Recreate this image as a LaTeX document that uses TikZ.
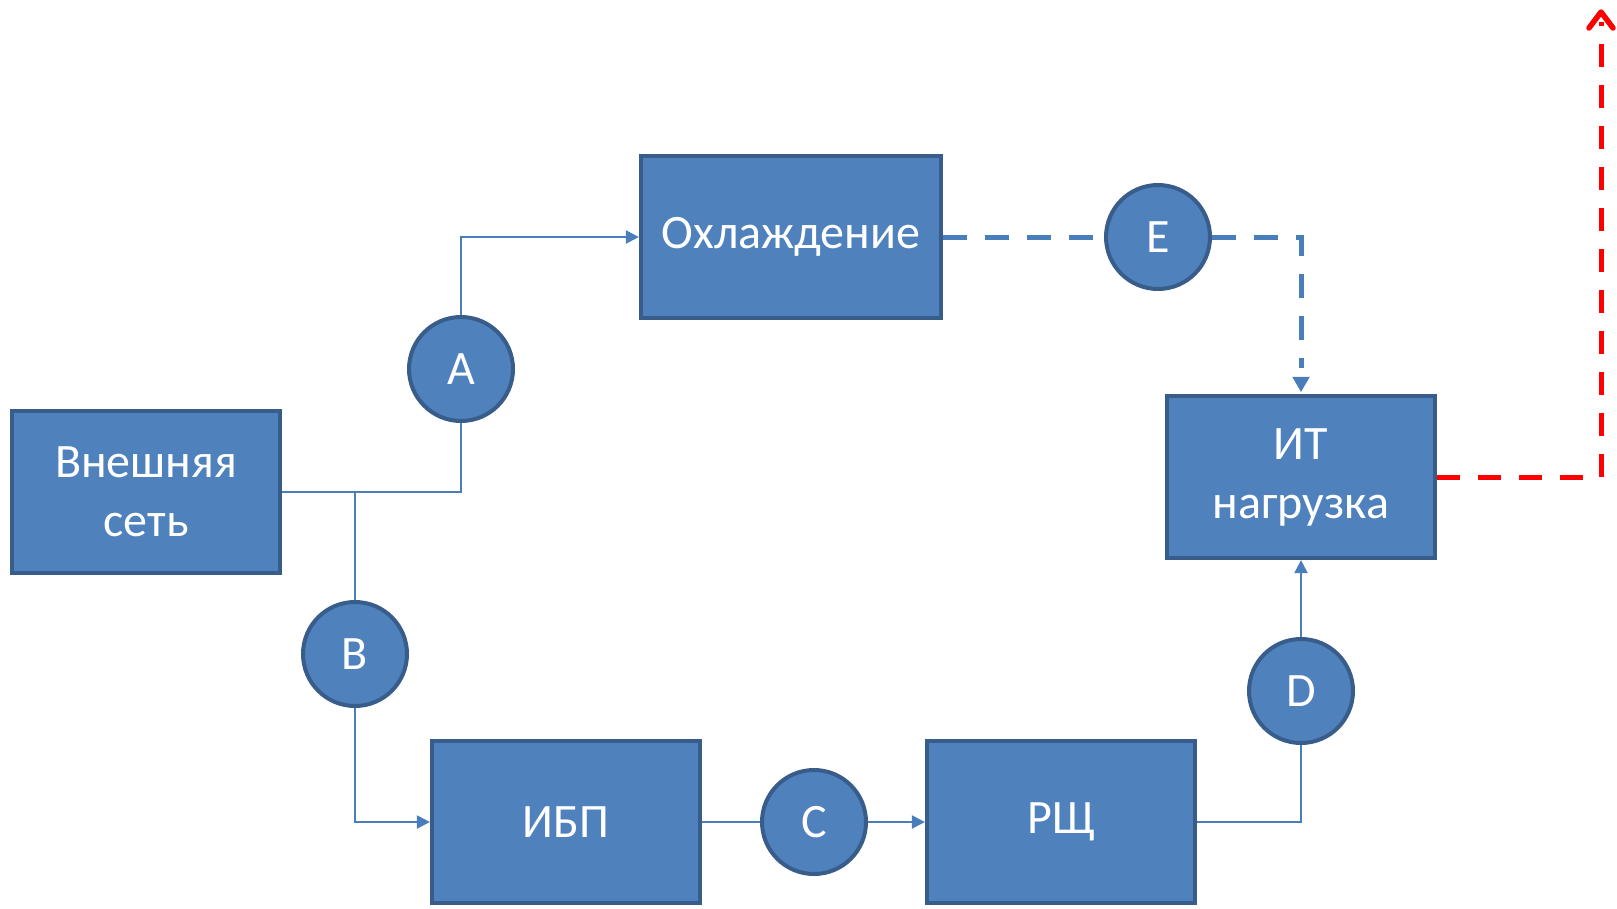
\documentclass[tikz,border=0pt]{standalone}
\usepackage{fontspec}
\setmainfont{Carlito}
\usetikzlibrary{arrows.meta}
\definecolor{boxfill}{HTML}{4F81BD}
\definecolor{boxline}{HTML}{385D8A}
\definecolor{conn}{HTML}{4A7EBB}
\begin{document}
\begin{tikzpicture}[x=1pt,y=-1pt,
  blk/.style={draw=boxline,fill=boxfill,line width=4.2pt,minimum width=268pt,minimum height=162pt,inner sep=0pt,align=center,text=white,font=\fontsize{48}{59}\selectfont},
  pt/.style={circle,draw=boxline,fill=boxfill,line width=4pt,minimum size=104pt,inner sep=0pt,text=white,font=\fontsize{48}{58}\selectfont},
  wire/.style={draw=conn,line width=2.2pt},
  tip/.style={-{Triangle[length=13pt,width=13pt]}},
  dwire/.style={draw=conn,line width=5pt,dash pattern=on 24pt off 18pt},
  rwire/.style={draw=red,line width=5pt,dash pattern=on 23pt off 18pt}
]
\useasboundingbox (0,0) rectangle (1617,908);
\node[blk] (net) at (146,492) {Внешняя\\сеть};
\node[blk,minimum width=300pt] (cool) at (791,237) {Охлаждение};
\node[blk] (it) at (1301,477) {ИТ\\нагрузка};
\node[blk] (ups) at (566,822) {ИБП};
\node[blk] (rsh) at (1061,822) {РЩ};
\node[pt] (A) at (461,369) {A};
\node[pt] (B) at (355,654) {B};
\node[pt] (C) at (814,822) {C};
\node[pt] (D) at (1301,691) {D};
\node[pt] (E) at (1158,237) {E};
\coordinate (top) at (1601,12);
\draw[wire] (net.east) -| (A.south);
\draw[wire] (B.north) -- (B.north |- net.east);
\draw[wire,tip] (A.north) |- (cool.west);
\draw[wire,tip] (B.south) |- (ups.west);
\draw[wire] (ups.east) -- (C.west);
\draw[wire,tip] (C.east) -- (rsh.west);
\draw[wire] (rsh.east) -| (D.south);
\draw[wire,tip] (D.north) -- (it.south);
\draw[dwire] (cool.east) -- (E.west);
\draw[dwire] (E.east) -| ([yshift=26pt]it.north);
\draw[draw=conn,line width=2pt,-{Triangle[length=15pt,width=17pt]}] ([yshift=17pt]it.north) -- ([yshift=2pt]it.north);
\draw[rwire] (it.east) -| ([yshift=-10pt]top);
\draw[draw=red,line width=5.5pt,line cap=round,line join=round] ([xshift=-12pt,yshift=-16pt]top) -- (top) -- ([xshift=12pt,yshift=-16pt]top);
\end{tikzpicture}
\end{document}
